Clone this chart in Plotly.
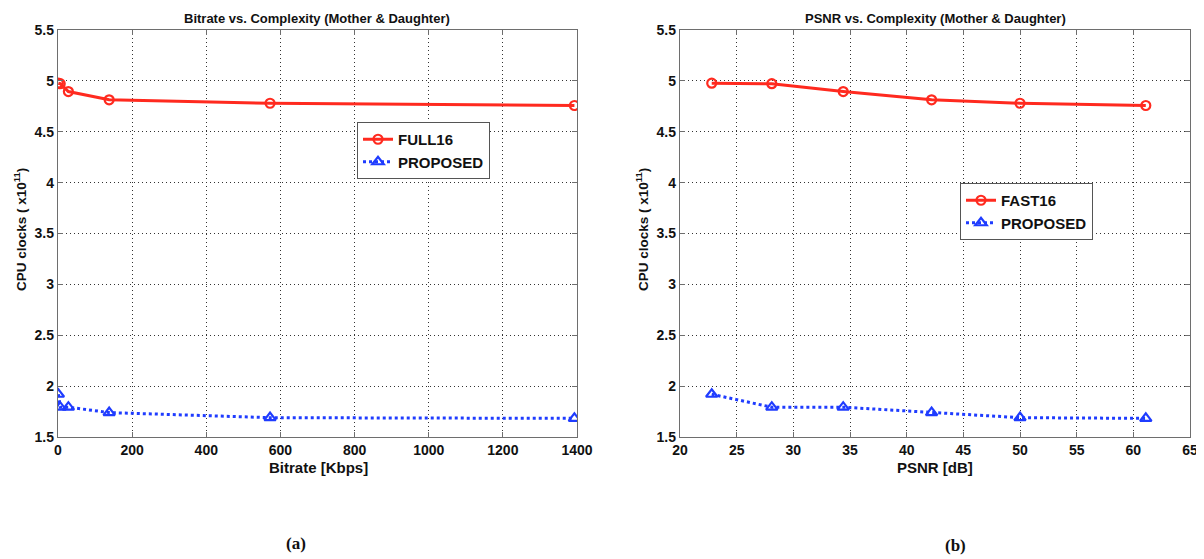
import plotly.graph_objects as go

# Data
bitrate_kbps = [1, 6, 28, 138, 572, 1393]
psnr_db = [22.8, 28.1, 34.4, 42.2, 50.0, 61.1]
full16_cpu = [4.977, 4.972, 4.895, 4.814, 4.780, 4.758]
fast16_cpu = [4.977, 4.972, 4.895, 4.814, 4.780, 4.758]
proposed_cpu = [1.920, 1.793, 1.793, 1.740, 1.690, 1.683]

RED = "#ff2a1f"
BLUE = "#1f3cff"
FONT = "Liberation Sans, Arial, Helvetica, sans-serif"
OFF = 8  # page body margin
W, H = 1204 - OFF, 559 - OFF

fig = go.Figure()

red_line = dict(color=RED, width=3)
red_marker = dict(symbol="circle-open", size=9, color=RED, line=dict(width=2.2))
blue_line = dict(color=BLUE, width=3, dash="dot")
blue_marker = dict(symbol="triangle-up-open", size=10, color=BLUE, line=dict(width=2.2))

fig.add_trace(go.Scatter(x=bitrate_kbps, y=full16_cpu, name="FULL16", mode="lines+markers",
                         line=red_line, marker=red_marker, xaxis="x", yaxis="y", legend="legend"))
fig.add_trace(go.Scatter(x=bitrate_kbps, y=proposed_cpu, name="PROPOSED", mode="lines+markers",
                         line=blue_line, marker=blue_marker, xaxis="x", yaxis="y", legend="legend"))
fig.add_trace(go.Scatter(x=psnr_db, y=fast16_cpu, name="FAST16", mode="lines+markers",
                         line=red_line, marker=red_marker, xaxis="x2", yaxis="y2", legend="legend2"))
fig.add_trace(go.Scatter(x=psnr_db, y=proposed_cpu, name="PROPOSED", mode="lines+markers",
                         line=blue_line, marker=blue_marker, xaxis="x2", yaxis="y2", legend="legend2"))

def px_x(p):
    return (p - OFF) / W

def px_y(p):
    return 1 - (p - OFF) / H

common_axis = dict(showline=True, linecolor="#6e6e6e", linewidth=1.3, mirror="ticks",
                   ticks="inside", ticklen=5, tickcolor="#6e6e6e", automargin=False,
                   showgrid=True, gridcolor="#333333", griddash="1px,3px", gridwidth=1,
                   zeroline=False, tickfont=dict(family=FONT, size=14, color="#111111", weight="bold"))

y_dom = [px_y(437), px_y(30)]
legend_common = dict(xanchor="left", yanchor="top", bordercolor="#555555", borderwidth=1,
                     bgcolor="white", font=dict(family=FONT, size=15, color="#111111", weight="bold"),
                     tracegroupgap=0, itemwidth=30)
fig.update_layout(
    width=W, height=H, margin=dict(l=0, r=0, t=0, b=0, autoexpand=False),
    paper_bgcolor="white", plot_bgcolor="white",
    xaxis=dict(domain=[px_x(58), px_x(577)], range=[0, 1400], dtick=200, anchor="y", **common_axis),
    yaxis=dict(domain=y_dom, range=[1.5, 5.5], dtick=0.5, anchor="x", **common_axis),
    xaxis2=dict(domain=[px_x(680), px_x(1190)], range=[20, 65], dtick=5, anchor="y2", **common_axis),
    yaxis2=dict(domain=y_dom, range=[1.5, 5.5], dtick=0.5, anchor="x2", **common_axis),
    legend=dict(x=px_x(357), y=px_y(122), **legend_common),
    legend2=dict(x=px_x(960), y=px_y(183), **legend_common),
    showlegend=True,
)

ann = []
def add_text(x, y, text, size, angle=0, family=FONT, yanchor="middle"):
    ann.append(dict(x=px_x(x), y=px_y(y), xref="paper", yref="paper", text=text,
                    showarrow=False, textangle=angle, xanchor="center", yanchor=yanchor,
                    font=dict(family=family, size=size, color="#111111", weight="bold")))

add_text(317, 9, "Bitrate vs. Complexity (Mother &amp; Daughter)", 13, yanchor="top")
add_text(935, 9, "PSNR vs. Complexity (Mother &amp; Daughter)", 13, yanchor="top")
add_text(318, 467, "Bitrate [Kbps]", 15)
add_text(935, 467, "PSNR [dB]", 15)
add_text(20, 230, "CPU clocks ( x10<sup>11</sup>)", 13.5, angle=-90)
add_text(642, 230, "CPU clocks ( x10<sup>11</sup>)", 13.5, angle=-90)
add_text(296, 543, "(a)", 17, family="Liberation Serif, Times New Roman, serif")
add_text(955, 545, "(b)", 17, family="Liberation Serif, Times New Roman, serif")
fig.update_layout(annotations=ann)

fig.write_html("out.html")
